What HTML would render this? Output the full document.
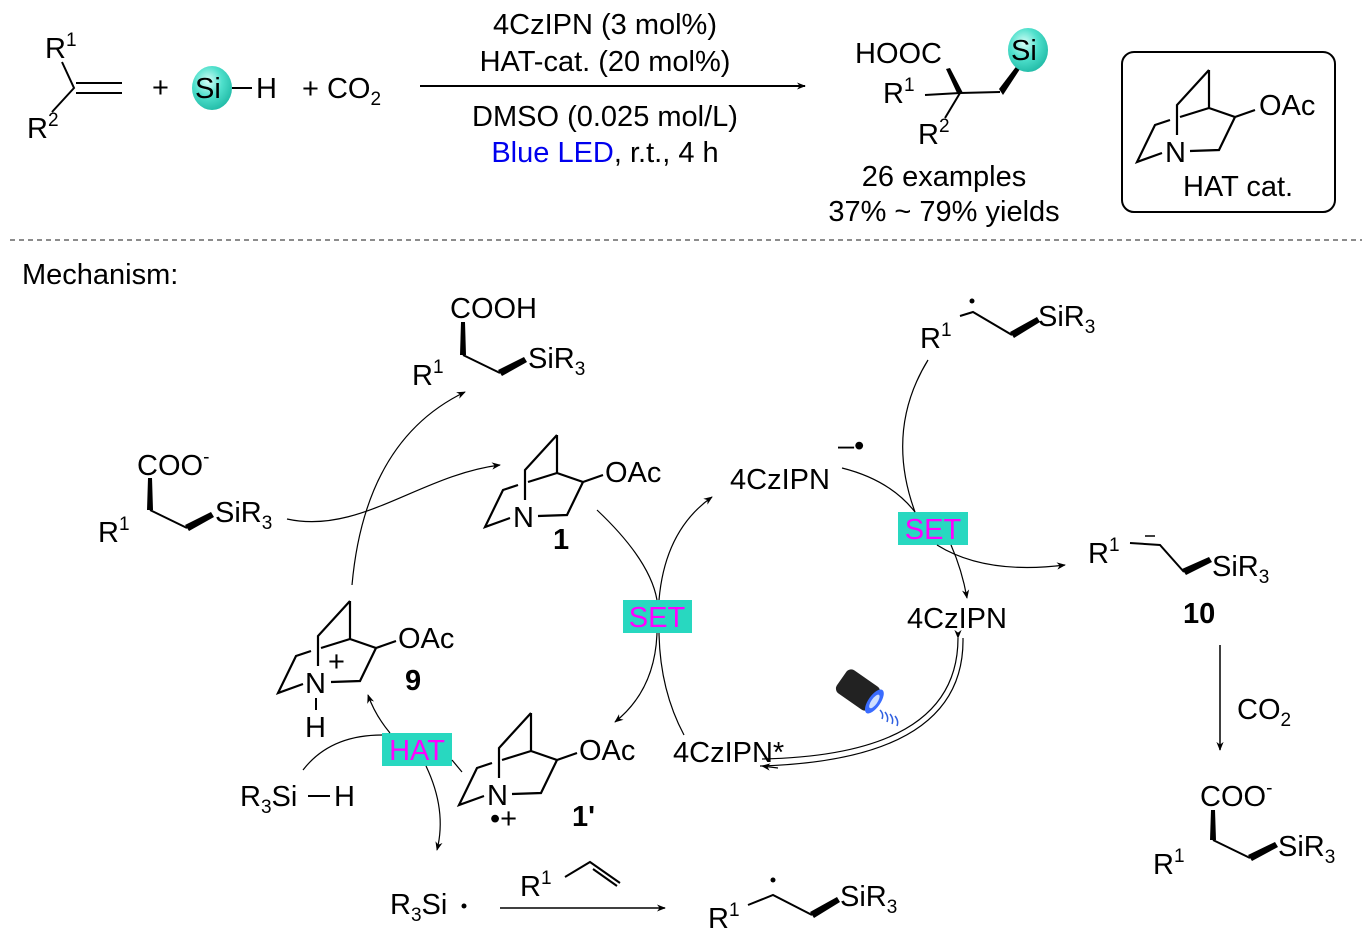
<!DOCTYPE html>
<html><head><meta charset="utf-8"><style>body{margin:0;background:#fff}svg{display:block}text{font-family:"Liberation Sans",sans-serif;font-size:29px;fill:#000}</style></head><body>
<svg width="1372" height="939" viewBox="0 0 1372 939">
<defs>
<radialGradient id="ball" cx="0.4" cy="0.35" r="0.7"><stop offset="0" stop-color="#d8fff8"/><stop offset="0.5" stop-color="#4fe0cc"/><stop offset="1" stop-color="#1fb9a5"/></radialGradient>
<marker id="ah" viewBox="0 0 10 10" refX="9" refY="5" markerWidth="9" markerHeight="9" orient="auto" markerUnits="userSpaceOnUse"><path d="M0,1 L10,5 L0,9 L3,5z" fill="#000"/></marker>
<g id="q" fill="none" stroke="#000" stroke-width="2.2">
<path d="M34,-82 L2,-47 L2,-17 M34,-82 L34,-44 M5,-35 L34,-44 M-5,-32 L-20,-27 L-38,10 L-13,1 M15,-1 L44,-2 L60,-35 L34,-44 M60,-35 L80,-42"/>
</g>
</defs>
<g stroke="#000" stroke-width="2" fill="none">
<path d="M62,62 L74,88 L52,112 M76,83 L122,83 M76,93 L122,93"/>
<path d="M232,88 L252,88"/>
<path d="M420,86 L805,86" marker-end="url(#ah)"/>
<path d="M960,93 L1000,92"/>
<path d="M960,93 L945,118"/>
<path d="M960,93 L925,95"/>
</g>
<path d="M957,93 L963,93 L950,68 L946,69z" fill="#000"/>
<path d="M999,89 L1003,95 L1022,66 L1018,64z" fill="#000"/>
<text x="45" y="58">R<tspan font-size="19" dy="-12">1</tspan></text>
<text x="27" y="138">R<tspan font-size="19" dy="-12">2</tspan></text>
<text x="152" y="97">+</text>
<ellipse cx="212" cy="88" rx="20" ry="22" fill="url(#ball)"/>
<text x="195" y="98">Si</text>
<text x="256" y="98">H</text>
<text x="302" y="98">+ CO<tspan font-size="19" dy="7">2</tspan></text>
<text x="605" y="34" text-anchor="middle">4CzIPN (3 mol%)</text>
<text x="605" y="71" text-anchor="middle">HAT-cat. (20 mol%)</text>
<text x="605" y="126" text-anchor="middle">DMSO (0.025 mol/L)</text>
<text x="605" y="162" text-anchor="middle"><tspan style="fill:#0000ee">Blue LED</tspan>, r.t., 4 h</text>
<text x="855" y="63">HOOC</text>
<ellipse cx="1028" cy="50" rx="20" ry="22" fill="url(#ball)"/>
<text x="1011" y="60">Si</text>
<text x="883" y="103">R<tspan font-size="19" dy="-12">1</tspan></text>
<text x="918" y="144">R<tspan font-size="19" dy="-12">2</tspan></text>
<text x="944" y="186" text-anchor="middle">26 examples</text>
<text x="944" y="221" text-anchor="middle">37% ~ 79% yields</text>
<rect x="1122" y="52" width="213" height="160" rx="12" fill="none" stroke="#000" stroke-width="2"/>
<use href="#q" x="1175" y="152"/>
<text x="1165" y="162">N</text>
<text x="1259" y="115">OAc</text>
<text x="1238" y="196" text-anchor="middle">HAT cat.</text>
<line x1="10" y1="240" x2="1362" y2="240" stroke="#666" stroke-width="1.5" stroke-dasharray="5,4"/>
<text x="22" y="284">Mechanism:</text>

<path d="M460,355 L466,355 L465,322 L461,322z" fill="#000"/>
<path d="M463,355 L500,373" stroke="#000" stroke-width="2"/>
<path d="M498,370 L502,376 L527,362 L524,357z" fill="#000"/>
<text x="450" y="318">COOH</text>
<text x="412" y="385">R<tspan font-size="19" dy="-12">1</tspan></text>
<text x="528" y="368">SiR<tspan font-size="19" dy="7">3</tspan></text>

<path d="M147,510 L153,510 L152,478 L148,478z" fill="#000"/>
<path d="M150,510 L187,528" stroke="#000" stroke-width="2"/>
<path d="M185,525 L189,531 L214,517 L211,512z" fill="#000"/>
<text x="137" y="475">COO<tspan font-size="19" dy="-12">-</tspan></text>
<text x="98" y="542">R<tspan font-size="19" dy="-12">1</tspan></text>
<text x="215" y="522">SiR<tspan font-size="19" dy="7">3</tspan></text>

<use href="#q" x="523" y="517"/><text x="513" y="527">N</text><text x="605" y="482">OAc</text>
<text x="553" y="549" font-weight="bold">1</text>
<use href="#q" x="316" y="683"/><text x="305" y="693">N</text><text x="398" y="648">OAc</text>
<text x="328" y="671" font-size="19">+</text>
<text x="405" y="690" font-weight="bold">9</text>
<line x1="316" y1="698" x2="316" y2="710" stroke="#000" stroke-width="2"/>
<text x="305" y="737">H</text>
<use href="#q" x="497" y="795"/><text x="487" y="805">N</text><text x="579" y="760">OAc</text>
<text x="490" y="828" font-size="19">•+</text>
<text x="572" y="826" font-weight="bold">1'</text>

<text x="730" y="489">4CzIPN</text>
<text x="838" y="455" font-size="20">–•</text>
<text x="920" y="348">R<tspan font-size="19" dy="-12">1</tspan></text>
<circle cx="972" cy="301" r="2.5"/>
<path d="M960,316 L973,312 L1012,335" stroke="#000" stroke-width="2" fill="none"/>
<path d="M1010,332 L1014,338 L1040,322 L1037,317z" fill="#000"/>
<text x="1038" y="326">SiR<tspan font-size="19" dy="7">3</tspan></text>

<rect x="898" y="512" width="70" height="33" fill="#28d8c0"/><text x="933" y="539" text-anchor="middle" style="fill:#ff00ff">SET</text>
<rect x="623" y="600" width="69" height="33" fill="#28d8c0"/><text x="657" y="627" text-anchor="middle" style="fill:#ff00ff">SET</text>
<rect x="382" y="733" width="70" height="33" fill="#28d8c0"/><text x="417" y="760" text-anchor="middle" style="fill:#ff00ff">HAT</text>

<text x="1088" y="563">R<tspan font-size="19" dy="-12">1</tspan></text>
<path d="M1130,543 L1160,545 L1184,572" stroke="#000" stroke-width="2" fill="none"/>
<line x1="1145" y1="536" x2="1155" y2="536" stroke="#000" stroke-width="1.5"/>
<path d="M1182,569 L1186,575 L1212,562 L1209,557z" fill="#000"/>
<text x="1212" y="576">SiR<tspan font-size="19" dy="7">3</tspan></text>
<text x="1183" y="623" font-weight="bold">10</text>
<text x="907" y="628">4CzIPN</text>
<text x="673" y="762">4CzIPN*</text>
<text x="1237" y="719">CO<tspan font-size="19" dy="7">2</tspan></text>
<path d="M1220,645 L1220,750" stroke="#000" stroke-width="1.5" marker-end="url(#ah)"/>

<path d="M1210,840 L1216,840 L1215,810 L1211,810z" fill="#000"/>
<path d="M1213,840 L1250,858" stroke="#000" stroke-width="2"/>
<path d="M1248,855 L1252,861 L1278,847 L1275,842z" fill="#000"/>
<text x="1200" y="806">COO<tspan font-size="19" dy="-12">-</tspan></text>
<text x="1153" y="874">R<tspan font-size="19" dy="-12">1</tspan></text>
<text x="1278" y="856">SiR<tspan font-size="19" dy="7">3</tspan></text>

<text x="240" y="806">R<tspan font-size="19" dy="7">3</tspan><tspan dy="-7">Si</tspan></text>
<line x1="308" y1="796" x2="330" y2="796" stroke="#000" stroke-width="2"/>
<text x="334" y="806">H</text>
<text x="390" y="914">R<tspan font-size="19" dy="7">3</tspan><tspan dy="-7">Si</tspan></text>
<circle cx="464" cy="906" r="2.5"/>
<path d="M500,908 L665,908" stroke="#000" stroke-width="1.5" marker-end="url(#ah)"/>
<text x="520" y="896">R<tspan font-size="19" dy="-12">1</tspan></text>
<path d="M565,877 L590,862 L620,883 M593,869 L617,886" stroke="#000" stroke-width="2" fill="none"/>
<text x="708" y="928">R<tspan font-size="19" dy="-12">1</tspan></text>
<circle cx="773" cy="880" r="2.5"/>
<path d="M748,905 L773,895 L812,915" stroke="#000" stroke-width="2" fill="none"/>
<path d="M810,912 L814,918 L840,902 L837,897z" fill="#000"/>
<text x="840" y="906">SiR<tspan font-size="19" dy="7">3</tspan></text>

<g fill="none" stroke="#000" stroke-width="1.2">
<path d="M352,585 Q365,440 465,392" marker-end="url(#ah)"/>
<path d="M287,519 C360,535 420,475 500,465" marker-end="url(#ah)"/>
<path d="M597,510 Q650,560 657,600 M657,633 Q655,690 615,722" marker-end="url(#ah)"/>
<path d="M684,735 Q660,690 659,633 M659,600 Q665,530 712,497" marker-end="url(#ah)"/>
<path d="M303,770 Q330,735 382,735"/>
<path d="M390,733 Q375,715 368,695" marker-end="url(#ah)"/>
<path d="M426,766 Q447,810 437,850" marker-end="url(#ah)"/>
<path d="M452,760 L462,772"/>
<path d="M842,468 Q890,480 915,512"/>
<path d="M937,545 Q985,575 1065,565" marker-end="url(#ah)"/>
<path d="M928,360 Q885,430 915,512"/>
<path d="M951,545 Q962,570 967,598" marker-end="url(#ah)"/>
<path d="M963,638 Q965,760 760,766" />
<path d="M958,638 Q958,755 762,759" marker-start="url(#ah)"/>
<path d="M778,768 L762,766" marker-end="url(#ah)"/>
</g>
<g transform="translate(858,690) rotate(35)">
<rect x="-20" y="-14" width="40" height="28" rx="6" fill="#222"/>
<ellipse cx="20" cy="0" rx="6" ry="14" fill="#3a6cff"/>
<ellipse cx="20" cy="0" rx="3" ry="8" fill="#cfe0ff"/>
</g>
<g stroke="#3060e0" stroke-width="1.5" fill="none">
<path d="M880,710 q4,4 2,9 M885,712 q4,5 2,10 M890,714 q4,5 2,10 M895,716 q4,5 2,10"/>
</g>
</svg>
</body></html>
